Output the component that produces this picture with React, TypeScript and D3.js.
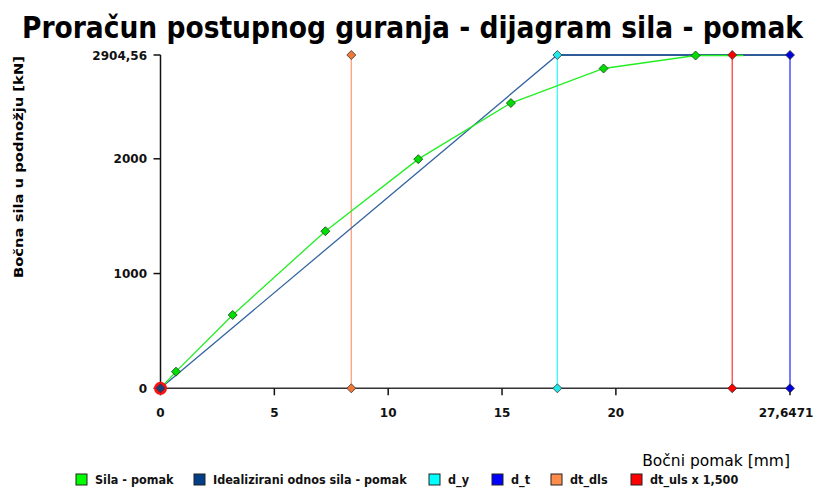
import React from "react";
import * as d3 from "d3";

const W = 822;
const H = 489;

const title = "Proračun postupnog guranja - dijagram sila - pomak";
const xLabel = "Bočni pomak [mm]";
const yLabel = "Bočna sila u podnožju [kN]";

const silaX = [0, 0.68, 3.17, 7.24, 11.32, 15.39, 19.46, 23.5, 25.6];
const silaY = [0, 145, 639, 1369, 1997, 2486, 2787, 2900, 2900];

const fMax = 2904.56;
const dY = 17.43;
const dT = 27.6471;
const dtDls = 8.38;
const dtUls = 25.11;

const idealX = [0, dY, dT];
const idealY = [0, fMax, fMax];

const xTicks = [0, 5, 10, 15, 20, 27.6471];
const xTickLabels = ["0", "5", "10", "15", "20", "27,6471"];
const yTicks = [0, 1000, 2000, 2904.56];
const yTickLabels = ["0", "1000", "2000", "2904,56"];

const legendNames = ["Sila - pomak", "Idealizirani odnos sila - pomak", "d_y", "d_t", "dt_dls", "dt_uls x 1,500"];
const legendColors = ["#00ff00", "#003f87", "#00ffff", "#0000ff", "#ff8c4a", "#ff0000"];
const legendX = [76, 194, 429, 492, 551, 631];

const verticals = [
  { x: dtDls, color: "#ffa27a", marker: "#f07838" },
  { x: dY, color: "#33ffff", marker: "#22e8e8" },
  { x: dtUls, color: "#ff4040", marker: "#ff0000" },
  { x: dT, color: "#3333ff", marker: "#0000dd" },
];

export default function App() {
  const x = d3.scaleLinear().domain([0, dT]).range([160.5, 790]);
  const y = d3.scaleLinear().domain([0, fMax]).range([388.3, 55]);
  const line = d3.line<[number, number]>().x((d) => x(d[0])).y((d) => y(d[1]));
  const sila = silaX.map((v, i) => [v, silaY[i]] as [number, number]);
  const ideal = idealX.map((v, i) => [v, idealY[i]] as [number, number]);
  const diamond = (cx: number, cy: number, r: number) =>
    `M${cx},${cy - r}L${cx + r},${cy}L${cx},${cy + r}L${cx - r},${cy}Z`;
  const tickFont = "'DejaVu Sans', Verdana, sans-serif";

  return (
    <svg width={W} height={H} style={{ position: "absolute", left: 0, top: 0, background: "#fff" }}>
      <text
        x={22}
        y={38}
        textLength={781}
        lengthAdjust="spacingAndGlyphs"
        fontFamily="'Liberation Sans Narrow', 'DejaVu Sans Condensed', 'Liberation Sans', sans-serif"
        fontWeight="bold"
        fontSize={30}
        fill="#000"
      >
        {title}
      </text>

      {/* axes */}
      <line x1={x(0)} x2={x(dT)} y1={y(0)} y2={y(0)} stroke="#333" strokeWidth={1.5} />
      <line x1={x(0)} x2={x(0)} y1={y(0)} y2={y(fMax)} stroke="#111" strokeWidth={1.5} />
      {yTicks.map((t, i) => (
        <g key={"yt" + i}>
          <line x1={x(0) - 7} x2={x(0)} y1={y(t)} y2={y(t)} stroke="#111" strokeWidth={1.5} />
          <text
            x={147}
            y={y(t) + 4.5}
            textAnchor="end"
            fontFamily={tickFont}
            fontWeight="bold"
            fontSize={12}
            fill="#111"
          >
            {yTickLabels[i]}
          </text>
        </g>
      ))}
      {xTicks.map((t, i) => (
        <g key={"xt" + i}>
          <line x1={x(t)} x2={x(t)} y1={y(0)} y2={y(0) + 7} stroke="#111" strokeWidth={1.5} />
          <text
            x={i === xTicks.length - 1 ? x(t) - 4 : x(t)}
            y={417}
            textAnchor="middle"
            fontFamily={tickFont}
            fontWeight="bold"
            fontSize={12}
            fill="#111"
          >
            {xTickLabels[i]}
          </text>
        </g>
      ))}

      <text
        transform={`translate(23,167) rotate(-90)`}
        textAnchor="middle"
        fontFamily="Tahoma, 'DejaVu Sans Condensed', 'DejaVu Sans', sans-serif"
        fontWeight="bold"
        fontSize={12.5}
        textLength={222}
        lengthAdjust="spacingAndGlyphs"
        fill="#000"
      >
        {yLabel}
      </text>
      <text
        x={790}
        y={466}
        textAnchor="end"
        fontFamily="Tahoma, 'DejaVu Sans', sans-serif"
        fontSize={15.5}
        fill="#000"
      >
        {xLabel}
      </text>

      {/* vertical marker lines */}
      {verticals.map((v, i) => (
        <line key={"v" + i} x1={x(v.x)} x2={x(v.x)} y1={y(0)} y2={y(fMax)} stroke={v.color} strokeWidth={1.3} />
      ))}

      {/* idealized */}
      <path d={line(ideal) || ""} fill="none" stroke="#3565a0" strokeWidth={1.3} />
      <line x1={x(dY)} x2={x(dT)} y1={y(fMax)} y2={y(fMax)} stroke="#2f5c98" strokeWidth={2} />

      {/* sila-pomak */}
      <path d={line(sila) || ""} fill="none" stroke="#22ee22" strokeWidth={1.3} />
      {sila.slice(0, sila.length - 1).map((p, i) => (
        <path key={"s" + i} d={diamond(x(p[0]), y(p[1]), 4.5)} fill="#00dd00" stroke="#1a3a1a" strokeWidth={0.8} />
      ))}

      {/* vertical markers */}
      {verticals.map((v, i) => (
        <g key={"vm" + i}>
          <path d={diamond(x(v.x), y(fMax), 4.5)} fill={v.marker} stroke="#333" strokeWidth={0.8} />
          <path d={diamond(x(v.x), y(0), 4.5)} fill={v.marker} stroke="#333" strokeWidth={0.8} />
        </g>
      ))}

      {/* origin markers */}
      <circle cx={x(0)} cy={y(0)} r={6.5} fill="#ff1010" />
      <path d={diamond(x(0), y(0), 4.5)} fill="#1b3f7a" stroke="#333" strokeWidth={0.8} />

      {/* legend */}
      {legendNames.map((n, i) => (
        <g key={"lg" + i}>
          <rect x={legendX[i]} y={474} width={11} height={11} fill={legendColors[i]} stroke="#222" strokeWidth={1} />
          <text
            x={legendX[i] + 19}
            y={484}
            fontFamily="Tahoma, 'DejaVu Sans Condensed', 'DejaVu Sans', sans-serif"
            fontWeight="bold"
            fontSize={12.5}
            fill="#111"
          >
            {n}
          </text>
        </g>
      ))}
    </svg>
  );
}
